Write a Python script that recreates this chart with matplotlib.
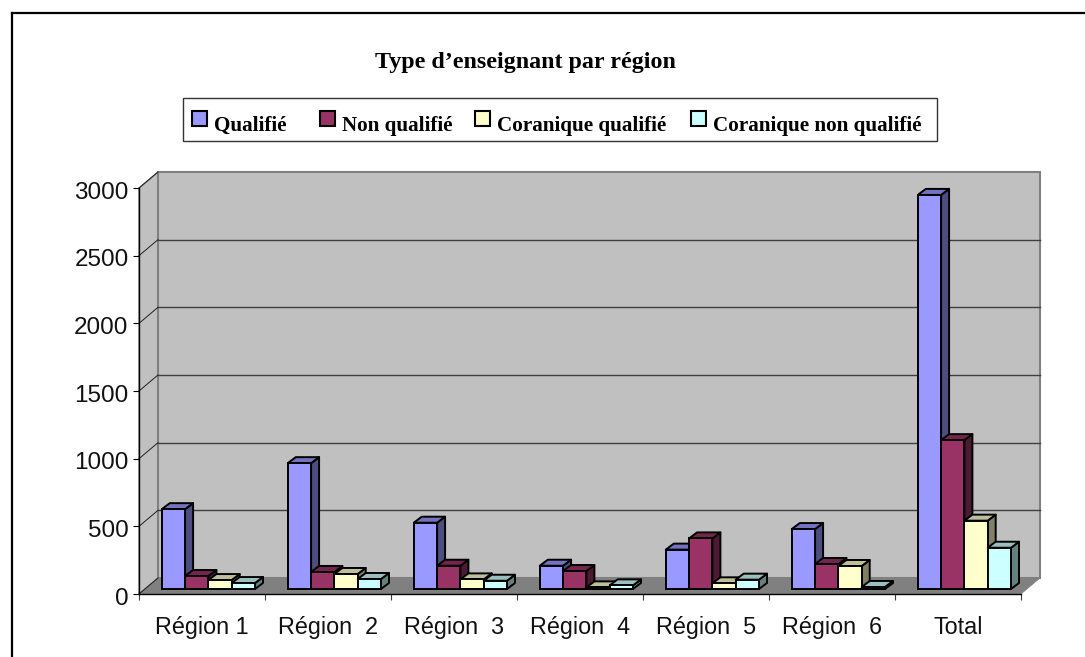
import matplotlib
matplotlib.use("Agg")
import matplotlib.pyplot as plt
from matplotlib.patches import Polygon, Rectangle
from matplotlib.lines import Line2D
from matplotlib.transforms import ScaledTranslation
import numpy as np

categories = ["Région 1", "Région  2", "Région  3", "Région  4", "Région  5", "Région  6", "Total"]
series_names = ["Qualifié", "Non qualifié", "Coranique qualifié", "Coranique non qualifié"]
qualifie = [590, 930, 490, 172, 291, 443, 2912]
non_qualifie = [96, 126, 172, 133, 374, 185, 1100]
coranique_qualifie = [66, 111, 71, 12, 42, 170, 505]
coranique_non_qualifie = [44, 74, 61, 27, 69, 15, 305]
yticks = [0, 500, 1000, 1500, 2000, 2500, 3000]

colors = ["#9999FF", "#993366", "#FFFFCC", "#CCFFFF"]
W, H = 1085, 657
L, R, T, B = 139, 1021, 188, 594   # plot front plane in px


def shade(c, f):
    rgb = np.array(matplotlib.colors.to_rgb(c)) * f
    return tuple(rgb)


fig = plt.figure(figsize=(W / 100, H / 100), dpi=100, facecolor="white")
ax = fig.add_axes([L / W, 1 - B / H, (R - L) / W, (B - T) / H])
ax.set_xlim(0, len(categories))
ax.set_ylim(0, 3000)
ax.patch.set_visible(False)

xpx = (R - L) / len(categories)   # px per category
ypx = (B - T) / 3000              # px per value unit
wall_dx, wall_dy = 19 / xpx, 16 / ypx
bar_dx, bar_dy = 8 / xpx, 6 / ypx
base = 5 / ypx
bar_start, bar_w = 22.8 / xpx, 23.3 / xpx
n = len(categories)

# walls and floor
grey = "#C0C0C0"
edge = "#808080"
ax.add_patch(Polygon([(0, 0), (wall_dx, wall_dy), (wall_dx, 3000 + wall_dy), (0, 3000)],
                     closed=True, fc=grey, ec=edge, lw=1, zorder=1, clip_on=False))
ax.add_patch(Polygon([(wall_dx, wall_dy), (n + wall_dx, wall_dy), (n + wall_dx, 3000 + wall_dy), (wall_dx, 3000 + wall_dy)],
                     closed=True, fc=grey, ec=edge, lw=1.5, zorder=1, clip_on=False))
ax.add_patch(Polygon([(0, 0), (n, 0), (n + wall_dx, wall_dy), (wall_dx, wall_dy)],
                     closed=True, fc=edge, ec=edge, lw=0.5, zorder=2, clip_on=False))
for v in yticks[1:-1]:
    ax.plot([wall_dx, n + wall_dx], [v + wall_dy] * 2, color="#404040", lw=1, zorder=2, clip_on=False)
for v in yticks:
    ax.plot([0, wall_dx], [v, v + wall_dy], color="#202020", lw=0.7, zorder=2, clip_on=False)

# bars
series = [qualifie, non_qualifie, coranique_qualifie, coranique_non_qualifie]
lw = 1.4
for c in range(n):
    for s, vals in enumerate(series):
        v = vals[c]
        x0 = c + bar_start + s * bar_w
        x1 = x0 + bar_w
        y0, y1 = base, base + v
        col = colors[s]
        ax.add_patch(Polygon([(x1, y0), (x1 + bar_dx, y0 + bar_dy), (x1 + bar_dx, y1 + bar_dy), (x1, y1)],
                             closed=True, fc=shade(col, 0.5), ec="black", lw=lw, zorder=3, clip_on=False, joinstyle="round"))
        ax.add_patch(Polygon([(x0, y1), (x1, y1), (x1 + bar_dx, y1 + bar_dy), (x0 + bar_dx, y1 + bar_dy)],
                             closed=True, fc=shade(col, 0.75), ec="black", lw=lw, zorder=3, clip_on=False, joinstyle="round"))
        ax.add_patch(Rectangle((x0, y0), bar_w, v, fc=col, ec="black", lw=lw, zorder=3, clip_on=False))

# axes
for sp in ("top", "right"):
    ax.spines[sp].set_visible(False)
for sp in ("left", "bottom"):
    ax.spines[sp].set_color("black")
    ax.spines[sp].set_linewidth(1)
    ax.spines[sp].set_zorder(4)
ax.set_yticks(yticks)
ax.set_xticks(np.arange(n + 1))
ax.set_xticklabels([])
ax.set_xticks(np.arange(n) + 0.5, minor=True)
ax.set_xticklabels(categories, minor=True)
ax.tick_params(axis="x", which="major", length=4.5, width=0.8, color="#404040")
ax.tick_params(axis="x", which="minor", length=0, pad=16, labelsize=16.8)
ax.tick_params(axis="y", length=4, width=0.8, pad=3.5, labelsize=17.5)
for t in ax.get_xticklabels(minor=True) + ax.get_yticklabels():
    t.set_fontfamily("Liberation Sans")
    t.set_color("#111111")
nudge = ScaledTranslation(0, -1.5 / 72, fig.dpi_scale_trans)
for t in ax.get_yticklabels():
    t.set_transform(t.get_transform() + nudge)


def fx(x):
    return x / W


def fy(y):
    return 1 - y / H


# chart border
fig.add_artist(Line2D([fx(12), fx(12)], [fy(13), fy(657)], color="black", lw=1.6))
fig.add_artist(Line2D([fx(12), fx(1085)], [fy(13), fy(13)], color="black", lw=1.6))

# title
fig.text(fx(525.5), fy(68), "Type d’enseignant par région", family="Liberation Serif",
         weight="bold", fontsize=17.3, ha="center", va="baseline", color="black")

# legend
fig.add_artist(Rectangle((fx(182.5), fy(141)), (937 - 182.5) / W, 42.7 / H, transform=fig.transFigure,
                         fc="white", ec="#333333", lw=1))
swatch_x = [192, 320, 475, 691]
text_x = [214, 342, 497, 713]
for sx, tx, col, name in zip(swatch_x, text_x, colors, series_names):
    fig.add_artist(Rectangle((fx(sx), fy(125.5)), 14.5 / W, 14.5 / H, transform=fig.transFigure,
                             fc=col, ec="black", lw=1.5))
    fig.text(fx(tx), fy(131), name, family="Liberation Serif", weight="bold", fontsize=15.2,
             ha="left", va="baseline", color="black")

fig.savefig("out.png", dpi=100, facecolor="white")
